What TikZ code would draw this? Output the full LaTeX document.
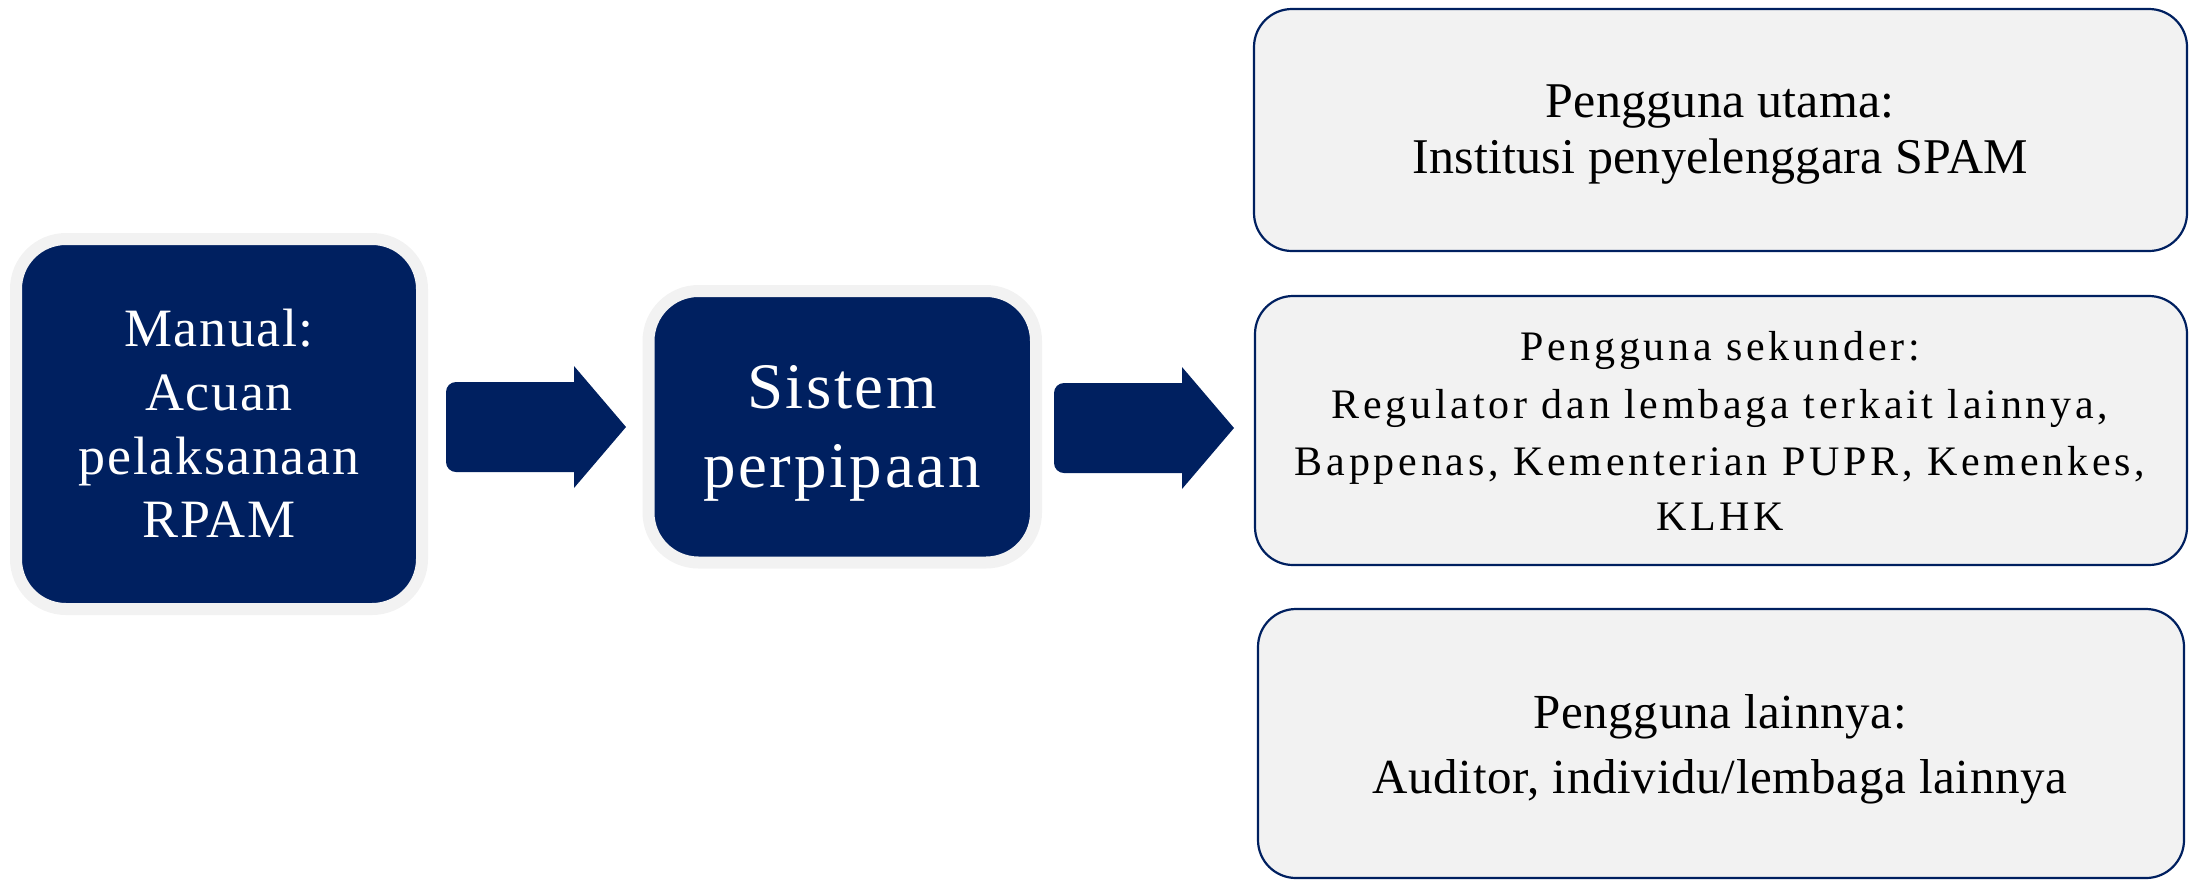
\documentclass[tikz,border=0pt]{standalone}
\usepackage{fontspec}
\setmainfont{Liberation Serif}
\newfontfamily\fontM[LetterSpace=3]{Liberation Serif}
\newfontfamily\fontS[LetterSpace=4]{Liberation Serif}
\newfontfamily\fontR[LetterSpace=0.5]{Liberation Serif}
\newfontfamily\fontRc[LetterSpace=1.4]{Liberation Serif}
\newfontfamily\fontRb[LetterSpace=9]{Liberation Serif}
\definecolor{navy}{HTML}{002060}
\definecolor{paleg}{HTML}{F2F2F2}
\tikzset{
  darkbox/.style={draw=paleg, line width=6pt, fill=navy, rounded corners=25pt, inner sep=0pt},
  userbox/.style={draw=navy, line width=1.1pt, fill=paleg, rounded corners=19pt, inner sep=0pt},
  wtxt/.style={text=white, anchor=base, inner sep=0pt},
  btxt/.style={text=black, anchor=base, inner sep=0pt},
  fM/.style={font=\fontM\fontsize{27pt}{30pt}\selectfont},
  fS/.style={font=\fontS\fontsize{32.5pt}{36pt}\selectfont},
  fR/.style={font=\fontR\fontsize{25pt}{28pt}\selectfont},
  fRb/.style={font=\fontRb\fontsize{21pt}{24pt}\selectfont},
  fRc/.style={font=\fontRc\fontsize{24.5pt}{28pt}\selectfont},
  blockarrow/.style={fill=navy}
}
\begin{document}
\begin{tikzpicture}[x=0.5pt,y=-0.5pt]
\useasboundingbox (0,0) rectangle (2190,879);
% dark boxes
\node[darkbox, minimum width=203pt, minimum height=185pt] (manual) at (219,424) {};
\node[darkbox, minimum width=193.75pt, minimum height=135.75pt] (sistem) at (842.25,426.75) {};
% user boxes
\node[userbox, minimum width=466.5pt, minimum height=121pt] (utama) at (1720.5,130) {};
\node[userbox, minimum width=466pt, minimum height=134.5pt] (sekunder) at (1721,430.5) {};
\node[userbox, minimum width=463pt, minimum height=134.5pt] (lain) at (1721,743.5) {};
% block arrows
\fill[blockarrow] (510,382) -- (574,382) -- (574,366) -- (626,427) -- (574,488) -- (574,472) [rounded corners=5pt] -- (446,472) -- (446,382) -- cycle;
\fill[blockarrow] (1118,383) -- (1182,383) -- (1182,367) -- (1234,428) -- (1182,489) -- (1182,473) [rounded corners=5pt] -- (1054,473) -- (1054,383) -- cycle;
% texts
\node[wtxt, fM] (m1) at (219,346) {Manual:};
\node[wtxt, fM] (m2) at (219,410) {Acuan};
\node[wtxt, fM] (m3) at (219,474) {pelaksanaan};
\node[wtxt, fM] (m4) at (219,537) {RPAM};
\node[wtxt, fS] (s1) at (842,408) {Sistem};
\node[wtxt, fS] (s2) at (842,487) {perpipaan};
\node[btxt, fR] (u1) at (1720,117) {Pengguna utama:};
\node[btxt, fR] (u2) at (1720,173) {Institusi penyelenggara SPAM};
\node[btxt, fRb] (k1) at (1720,360) {Pengguna sekunder:};
\node[btxt, fRb] (k2) at (1720,418) {Regulator dan lembaga terkait lainnya,};
\node[btxt, fRb] (k3) at (1720,475) {Bappenas, Kementerian PUPR, Kemenkes,};
\node[btxt, fRb] (k4) at (1720,530) {KLHK};
\node[btxt, fRc] (l1) at (1720,728) {Pengguna lainnya:};
\node[btxt, fRc] (l2) at (1720,793) {Auditor, individu/lembaga lainnya};
\end{tikzpicture}
\end{document}
